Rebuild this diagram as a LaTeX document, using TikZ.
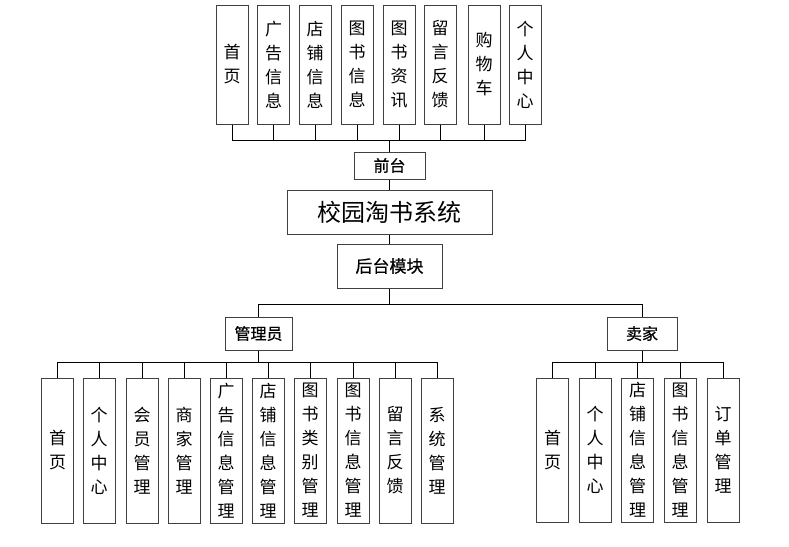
\documentclass[tikz,border=0pt]{standalone}
\usepackage{fontspec}
\newfontfamily\cjk{Noto Sans CJK SC}
\newfontfamily\cjkm[FakeBold=0.6]{Noto Sans CJK SC}
\begin{document}
\begin{tikzpicture}[x=1pt,y=-1pt,
  vbox/.style={draw=black!75, line width=1pt, minimum width=32pt, inner sep=0pt, align=center,
    font=\cjk\fontsize{17}{24}\selectfont},
  hbox/.style={draw=black!75, line width=1pt, inner sep=0pt, align=center,
    font=\cjkm\fontsize{16}{18}\selectfont},
  conn/.style={draw=black, line width=0.9pt}]
\useasboundingbox (0,0) rectangle (789,546);
% top boxes
\foreach \n/\x/\t in {t1/232/首\\页, t2/273.5/广\\告\\信\\息, t3/315/店\\铺\\信\\息, t4/357/图\\书\\信\\息,
  t5/399/图\\书\\资\\讯, t6/440/留\\言\\反\\馈, t7/484/购\\物\\车, t8/525/个\\人\\中\\心}
  \node[vbox, minimum height=119pt] (\n) at (\x,64.5) {\t};
\node[hbox, minimum width=71pt, minimum height=27pt] (qt) at (389.5,165.5) {前台};
\node[hbox, minimum width=205pt, minimum height=44pt, font=\cjk\fontsize{24}{26}\selectfont] (sys) at (389.5,212) {校园淘书系统};
\node[hbox, minimum width=105pt, minimum height=44pt, font=\cjkm\fontsize{17}{20}\selectfont] (ht) at (389.5,266) {后台模块};
\node[hbox, minimum width=67pt, minimum height=33pt] (adm) at (258.5,333.5) {管理员};
\node[hbox, minimum width=70pt, minimum height=33pt] (sel) at (642,333.5) {卖家};
% admin children
\foreach \n/\x/\t in {a1/57.5/首\\页, a2/99/个\\人\\中\\心, a3/142/会\\员\\管\\理, a4/184/商\\家\\管\\理,
  a5/226/广\\告\\信\\息\\管\\理, a6/268/店\\铺\\信\\息\\管\\理, a7/310/图\\书\\类\\别\\管\\理,
  a8/353/图\\书\\信\\息\\管\\理, a9/395/留\\言\\反\\馈, a10/437/系\\统\\管\\理}
  \node[vbox, minimum height=145pt] (\n) at (\x,450.5) {\t};
% seller children
\foreach \n/\x/\t in {s1/552.5/首\\页, s2/595/个\\人\\中\\心, s3/637.5/店\\铺\\信\\息\\管\\理,
  s4/680/图\\书\\信\\息\\管\\理, s5/723/订\\单\\管\\理}
  \node[vbox, minimum height=144pt] (\n) at (\x,450) {\t};
% coordinates for buses
\coordinate (tbus) at (389.5,140);
\coordinate (hbus) at (389.5,304);
\coordinate (abus) at (258.5,362);
\coordinate (sbus) at (642,362);
% connectors
\foreach \n in {t1,t2,t3,t4,t5,t6,t7,t8}
  \draw[conn] (\n.south) |- (tbus);
\draw[conn] (tbus) -- (qt.north);
\draw[conn] (qt.south) -- (sys.north);
\draw[conn] (sys.south) -- (ht.north);
\draw[conn] (ht.south) -- (hbus);
\draw[conn] (hbus) -| (adm.north);
\draw[conn] (hbus) -| (sel.north);
\draw[conn] (adm.south) -- (abus);
\draw[conn] (sel.south) -- (sbus);
\foreach \n in {a1,a2,a3,a4,a5,a6,a7,a8,a9,a10}
  \draw[conn] (\n.north) |- (abus);
\foreach \n in {s1,s2,s3,s4,s5}
  \draw[conn] (\n.north) |- (sbus);
\end{tikzpicture}
\end{document}
